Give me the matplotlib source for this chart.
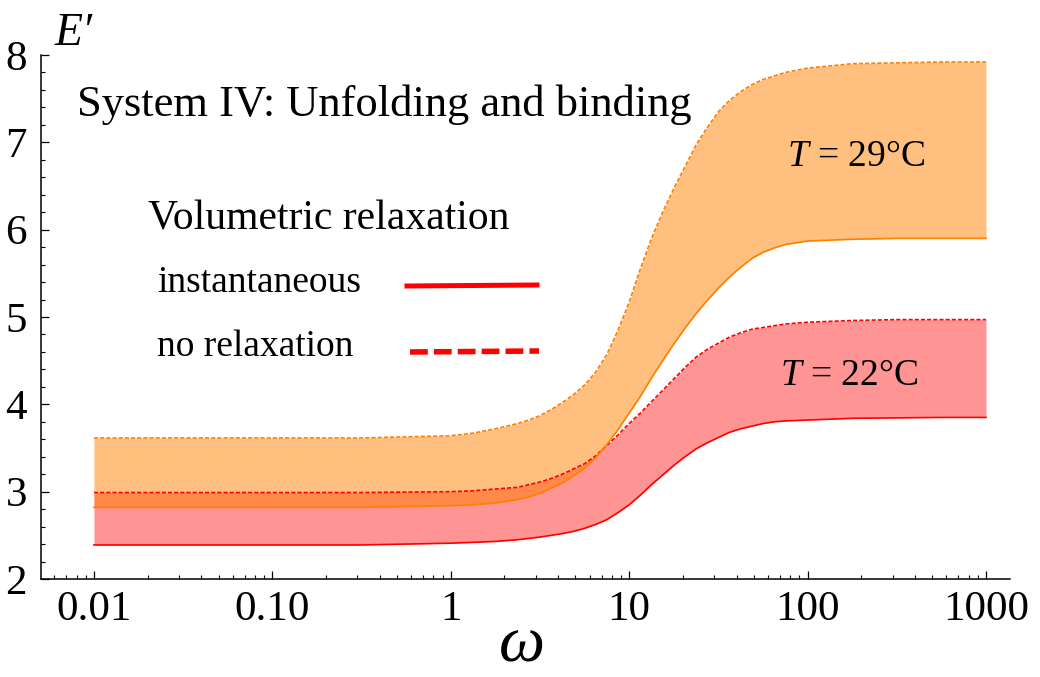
import matplotlib
matplotlib.use('Agg')
import matplotlib.pyplot as plt

plt.rcParams['font.family'] = ['Liberation Serif', 'DejaVu Serif']
plt.rcParams['mathtext.fontset'] = 'custom'
plt.rcParams['mathtext.rm'] = 'Liberation Serif'
plt.rcParams['mathtext.it'] = 'Liberation Serif:italic'

# values (frequency given as log10 of omega)
log_omega = [-2, -1.5, -1, -0.5, 0, 0.125, 0.25,
             0.375, 0.4375, 0.5, 0.5625, 0.625, 0.6875, 0.75, 0.8125, 0.875, 0.9375,
             1.0, 1.0625, 1.125, 1.1875, 1.25, 1.3125, 1.375, 1.4375, 1.5, 1.5625,
             1.625, 1.6875, 1.75, 1.8125, 1.875, 2.0, 2.25, 2.5, 2.75, 3.0]
e29_norelax = [3.615, 3.615, 3.615, 3.615, 3.64, 3.67, 3.72,
               3.78, 3.82, 3.87, 3.94, 4.02, 4.11, 4.22, 4.37, 4.57, 4.85,
               5.17, 5.55, 5.90, 6.20, 6.47, 6.72, 6.97, 7.17, 7.35, 7.48,
               7.58, 7.66, 7.72, 7.76, 7.80, 7.85, 7.90, 7.91, 7.92, 7.92]
e29_inst = [2.82, 2.82, 2.82, 2.82, 2.84, 2.85, 2.87,
            2.91, 2.94, 2.98, 3.04, 3.10, 3.18, 3.27, 3.39, 3.54, 3.71,
            3.90, 4.09, 4.30, 4.50, 4.69, 4.87, 5.04, 5.19, 5.33, 5.46,
            5.57, 5.67, 5.74, 5.79, 5.83, 5.87, 5.89, 5.90, 5.90, 5.90]
e22_norelax = [2.99, 2.99, 2.99, 2.99, 3.00, 3.01, 3.03,
               3.05, 3.08, 3.11, 3.15, 3.20, 3.26, 3.32, 3.41, 3.53, 3.65,
               3.78, 3.90, 4.03, 4.16, 4.29, 4.42, 4.54, 4.63, 4.70, 4.77,
               4.82, 4.86, 4.88, 4.90, 4.92, 4.94, 4.96, 4.97, 4.97, 4.97]
e22_inst = [2.39, 2.39, 2.39, 2.39, 2.41, 2.42, 2.43,
            2.45, 2.465, 2.48, 2.50, 2.52, 2.545, 2.58, 2.625, 2.68, 2.76,
            2.85, 2.96, 3.08, 3.19, 3.30, 3.40, 3.49, 3.56, 3.62, 3.68,
            3.72, 3.75, 3.78, 3.80, 3.81, 3.82, 3.84, 3.845, 3.85, 3.85]
omega = [10.0 ** v for v in log_omega]

xticks = [0.01, 0.1, 1, 10, 100, 1000]
xticklabels = ['0.01', '0.10', '1', '10', '100', '1000']
yticks = [2, 3, 4, 5, 6, 7, 8]

W, H = 1040, 677
fig = plt.figure(figsize=(W / 100, H / 100), dpi=100)
ax = fig.add_axes([41 / W, 1 - 579 / H, (1010 - 41) / W, (579 - 55) / H])

orange = '#FF8000'
red = '#FF0000'

ax.fill_between(omega, e22_inst, e22_norelax, color=red, alpha=0.42, lw=0)
ax.fill_between(omega, e29_inst, e29_norelax, color=orange, alpha=0.5, lw=0)
ax.plot(omega, e22_inst, color=red, lw=1.2)
ax.plot(omega, e22_norelax, color=red, lw=1.2, dashes=(2.5, 1.2))
ax.plot(omega, e29_inst, color=orange, lw=1.2)
ax.plot(omega, e29_norelax, color=orange, lw=1.2, dashes=(2.5, 1.2))

ax.set_xscale('log')
ax.set_xlim(0.00505, 1363)
ax.set_ylim(2, 8)

minor = [m * 10.0 ** d for d in range(-3, 3) for m in range(2, 10)]
minor = [v for v in minor if 0.0055 < v < 1000]
ax.set_xticks(xticks)
ax.set_xticklabels(xticklabels)
ax.set_xticks(minor, minor=True)
ax.xaxis.set_minor_formatter(matplotlib.ticker.NullFormatter())
ax.set_yticks(yticks)
ax.set_yticks([2 + 0.2 * i for i in range(31) if i % 5], minor=True)

for s in ['top', 'right']:
    ax.spines[s].set_visible(False)
for s in ['left', 'bottom']:
    ax.spines[s].set_linewidth(1.1)
ax.tick_params(which='major', direction='in', length=6, width=0.9, labelsize=31, pad=8)
ax.tick_params(which='minor', direction='in', length=3, width=0.8)
ax.tick_params(axis='y', pad=10)

def fx(px):
    return px / W

def fy(py):
    return 1 - py / H

fig.text(fx(55), fy(45), 'E\u2032', fontsize=33, style='italic')
fig.text(fx(522), fy(646), '\u03c9', fontsize=47, style='italic', ha='center', va='center')
fig.text(fx(77), fy(116), 'System IV: Unfolding and binding', fontsize=32)
fig.text(fx(148), fy(230), 'Volumetric relaxation', fontsize=30)
fig.text(fx(157), fy(292), 'instantaneous', fontsize=27)
fig.text(fx(157), fy(356), 'no relaxation', fontsize=27)
fig.text(fx(787), fy(166), r'$T$ = 29°C', fontsize=27)
fig.text(fx(780), fy(385), r'$T$ = 22°C', fontsize=27)

fig.add_artist(plt.Line2D([fx(407), fx(537)], [fy(286), fy(285)], color=red, lw=3.6))
fig.add_artist(plt.Line2D([fx(410), fx(539)], [fy(352), fy(351)], color=red, lw=4,
                          dashes=(3.2, 1.1)))

fig.savefig('out.png', dpi=100)
